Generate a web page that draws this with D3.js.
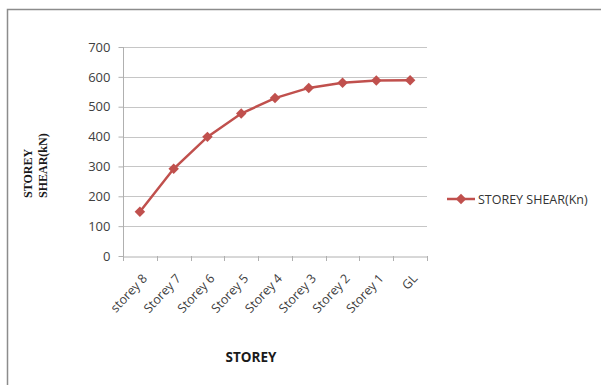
<!DOCTYPE html>
<html><head><meta charset="utf-8">
<script src="https://cdn.jsdelivr.net/npm/d3@7"></script>
<style>body{margin:0;background:#fff}svg{display:block}</style>
</head><body>
<script>
const categories = ["storey 8","Storey 7","Storey 6","Storey 5","Storey 4","Storey 3","Storey 2","Storey 1","GL"];
const shear = [148, 292, 399, 477, 529, 563, 580, 588, 589];
const yTicks = [0,100,200,300,400,500,600,700];
const seriesName = "STOREY SHEAR(Kn)";

const W=601,H=385;
const svg=d3.select("body").append("svg").attr("width",W).attr("height",H);
svg.append("rect").attr("width",W).attr("height",H).attr("fill","#fff");
// frame
svg.append("path").attr("d","M7.5,385 V9.5 H601").attr("fill","none").attr("stroke","#8c8c8c").attr("stroke-width",1.5);

const x=d3.scaleBand().domain(categories).range([123,427]);
const y=d3.scaleLinear().domain([0,700]).range([256,47]);
const font="'Open Sans', 'Liberation Sans', sans-serif";

// grid
svg.append("g").selectAll("line").data(yTicks.filter(d=>d>0)).join("line")
 .attr("x1",123).attr("x2",427).attr("y1",d=>Math.round(y(d))+0.5).attr("y2",d=>Math.round(y(d))+0.5)
 .attr("stroke","#c6c6c6").attr("stroke-width",1.2);

const ya=svg.append("g").attr("transform","translate(123.5,0)")
 .call(d3.axisLeft(y).tickValues(yTicks).tickSize(5).tickPadding(8).tickFormat(d3.format("d")));
ya.select(".domain").attr("stroke","#b0b0b0").attr("d","M-0,47V256");
ya.selectAll(".tick line").attr("stroke","#b0b0b0");
ya.selectAll("text").attr("font-family",font).attr("font-size",13).attr("fill","#404040");

const xa=svg.append("g").attr("transform","translate(0,256.5)")
 .call(d3.axisBottom(x).tickSize(0).tickFormat(""));
xa.select(".domain").attr("stroke","#b0b0b0");
// tick marks at band boundaries
svg.append("g").selectAll("line").data(categories.concat(["_end"])).join("line")
 .attr("x1",(d,i)=>Math.round(x.range()[0]+i*x.bandwidth())+0.5)
 .attr("x2",(d,i)=>Math.round(x.range()[0]+i*x.bandwidth())+0.5)
 .attr("y1",256).attr("y2",261).attr("stroke","#b0b0b0");
svg.append("g").selectAll("text").data(categories).join("text")
 .attr("transform",d=>`translate(${x(d)+x.bandwidth()/2+8},${279}) rotate(-47)`)
 .attr("text-anchor","end").attr("font-family",font).attr("font-size",12.5).attr("fill","#404040")
 .text(d=>d);

const color="#C0504D";
const line=d3.line().x((d,i)=>x(categories[i])+x.bandwidth()/2).y(d=>y(d));
svg.append("path").datum(shear).attr("d",line).attr("fill","none").attr("stroke",color).attr("stroke-width",2.5);
const diamond=d3.symbol().type(d3.symbolDiamond2).size(70);
svg.append("g").selectAll("path").data(shear).join("path")
 .attr("transform",(d,i)=>`translate(${x(categories[i])+x.bandwidth()/2},${y(d)})`)
 .attr("d",diamond).attr("fill",color);

// titles
const yt=svg.append("text").attr("transform","translate(32,198) rotate(-90)").attr("text-anchor","start")
 .attr("font-family","'Liberation Serif', 'DejaVu Serif', serif").attr("font-weight","bold").attr("font-size",12).attr("fill","#1a1a1a");
yt.append("tspan").attr("x",0).attr("dy",0).text("STOREY");
yt.append("tspan").attr("x",0).attr("dy",15).text("SHEAR(kN)");

svg.append("text").attr("x",251).attr("y",362).attr("text-anchor","middle")
 .attr("font-family",font).attr("font-weight","bold").attr("font-size",13.5).attr("fill","#1a1a1a").text("STOREY");

// legend
const lg=svg.append("g");
lg.append("line").attr("x1",447).attr("x2",475).attr("y1",199).attr("y2",199).attr("stroke",color).attr("stroke-width",2.5);
lg.append("path").attr("transform","translate(461,199)").attr("d",diamond).attr("fill",color);
lg.append("text").attr("x",478).attr("y",203.5).attr("font-family",font).attr("font-size",12.5).attr("fill","#333").text(seriesName);
</script>
</body></html>
